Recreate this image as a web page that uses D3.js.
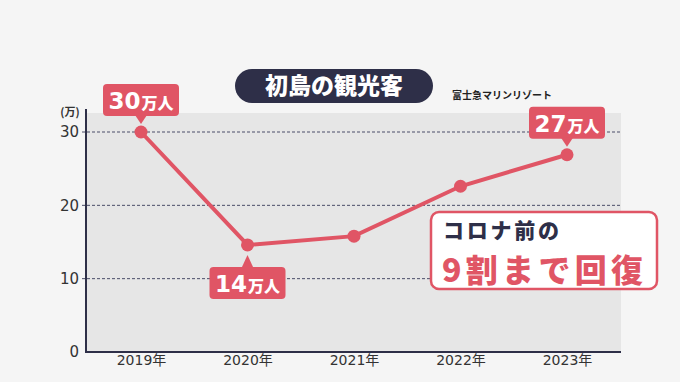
<!DOCTYPE html>
<html><head><meta charset="utf-8">
<script src="https://cdn.jsdelivr.net/npm/d3@7"></script>
<style>body{margin:0;background:#f5f5f5;}svg{display:block;}</style>
</head><body>
<script>
const years = ["2019年","2020年","2021年","2022年","2023年"];
const visitors = [30, 14.6, 15.8, 22.6, 26.9];
const yTicks = [0, 10, 20, 30];
const labelTexts = [{i:0, num:"30", unit:"万人", pos:"above"}, {i:1, num:"14", unit:"万人", pos:"below"}, {i:4, num:"27", unit:"万人", pos:"above"}];
const titleText = "初島の観光客";
const sourceText = "富士急マリンリゾート";
const calloutLine1 = "コロナ前の";
const calloutLine2 = "9割まで回復";

(function(){
const W = 680, H = 382;
const font = "'Noto Sans CJK JP', 'Noto Sans', sans-serif";
const numFont = "'DejaVu Sans', 'Noto Sans CJK JP', sans-serif";
const red = "#e05565", navy = "#2e2f48";
const svg = d3.select("body").append("svg").attr("width", W).attr("height", H);
svg.append("rect").attr("width", W).attr("height", H).attr("fill", "#f5f5f5");

const pL = 86, pR = 621, pT = 113, pB = 352;
const x = d3.scalePoint().domain(years).range([141, 567]);
const y = d3.scaleLinear().domain([0, 30]).range([pB, 132]);

svg.append("rect").attr("x", pL).attr("y", pT).attr("width", pR - pL).attr("height", pB - pT).attr("fill", "#e6e6e6");

// grid
svg.append("g").selectAll("line").data(yTicks.filter(d => d > 0)).join("line")
  .attr("x1", pL - 4).attr("x2", pR).attr("y1", d => y(d)).attr("y2", d => y(d))
  .attr("stroke", "#4a4c68").attr("stroke-width", 1).attr("stroke-dasharray", "3,2");

// y axis
const yAxis = svg.append("g").attr("transform", `translate(${pL},0)`)
  .call(d3.axisLeft(y).tickValues(yTicks).tickSize(0).tickPadding(6).tickFormat(d3.format("d")));
yAxis.select(".domain").remove();
yAxis.selectAll("text").attr("font-family", numFont).attr("font-size", 15).attr("fill", "#333").attr("dx", -1);

// x axis
const xAxis = svg.append("g").attr("transform", `translate(0,${pB})`)
  .call(d3.axisBottom(x).tickSize(0).tickPadding(3));
xAxis.select(".domain").remove();
xAxis.selectAll("text").attr("font-family", numFont).attr("font-size", 14).attr("fill", "#333");

// axes lines
svg.append("line").attr("x1", pL).attr("x2", pL).attr("y1", pT - 4).attr("y2", pB).attr("stroke", navy).attr("stroke-width", 2);
svg.append("line").attr("x1", pL - 1).attr("x2", pR).attr("y1", pB).attr("y2", pB).attr("stroke", navy).attr("stroke-width", 2);

svg.append("text").attr("x", 70).attr("y", 116).attr("text-anchor", "middle").attr("font-family", font)
  .attr("font-size", 11).attr("font-weight", 700).attr("fill", "#333").text("(万)");

// line
svg.append("path").datum(visitors)
  .attr("d", d3.line().x((d, i) => x(years[i])).y(d => y(d)))
  .attr("fill", "none").attr("stroke", red).attr("stroke-width", 4);
svg.append("g").selectAll("circle").data(visitors).join("circle")
  .attr("cx", (d, i) => x(years[i])).attr("cy", d => y(d)).attr("r", 6.5).attr("fill", red);

// value labels
labelTexts.forEach(l => {
  const px = x(years[l.i]), py = y(visitors[l.i]);
  const w = 76, h = 32;
  const g = svg.append("g");
  let by, tipPath;
  if (l.pos === "above") {
    by = py - 48;
    tipPath = `M${px-6},${by+h-1} L${px},${py-8} L${px+6},${by+h-1} Z`;
  } else {
    by = py + 22;
    tipPath = `M${px-6},${by+1} L${px},${py+10} L${px+6},${by+1} Z`;
  }
  g.append("rect").attr("x", px - w/2).attr("y", by).attr("width", w).attr("height", h).attr("rx", 4).attr("fill", red);
  g.append("path").attr("d", tipPath).attr("fill", red);
  const t = g.append("text").attr("x", px).attr("y", by + 25).attr("text-anchor", "middle")
    .attr("font-weight", 900).attr("fill", "#fff");
  t.append("tspan").attr("font-family", numFont).attr("font-weight", 700).attr("font-size", 23).text(l.num);
  t.append("tspan").attr("font-family", font).attr("font-size", 16).attr("dx", 1).text(l.unit);
});

// title
svg.append("rect").attr("x", 235).attr("y", 69).attr("width", 198).attr("height", 34).attr("rx", 17).attr("fill", navy);
svg.append("text").attr("x", 334).attr("y", 94).attr("text-anchor", "middle").attr("font-family", font)
  .attr("font-weight", 900).attr("font-size", 23).attr("fill", "#fff").text(titleText);
svg.append("text").attr("x", 452).attr("y", 99).attr("font-family", font).attr("font-weight", 700)
  .attr("font-size", 10).attr("fill", "#222").text(sourceText);

// callout
svg.append("rect").attr("x", 431).attr("y", 212).attr("width", 226).attr("height", 77).attr("rx", 8)
  .attr("fill", "#fff").attr("stroke", red).attr("stroke-width", 2.5);
svg.append("text").attr("x", 443).attr("y", 238).attr("font-family", font).attr("font-weight", 900)
  .attr("font-size", 21).attr("fill", navy).attr("textLength", 116).text(calloutLine1);
svg.append("text").attr("x", 442).attr("y", 281.5).attr("font-family", font).attr("font-weight", 900)
  .attr("font-size", 32).attr("fill", red).attr("textLength", 201).text(calloutLine2);
})();
</script>
</body></html>
